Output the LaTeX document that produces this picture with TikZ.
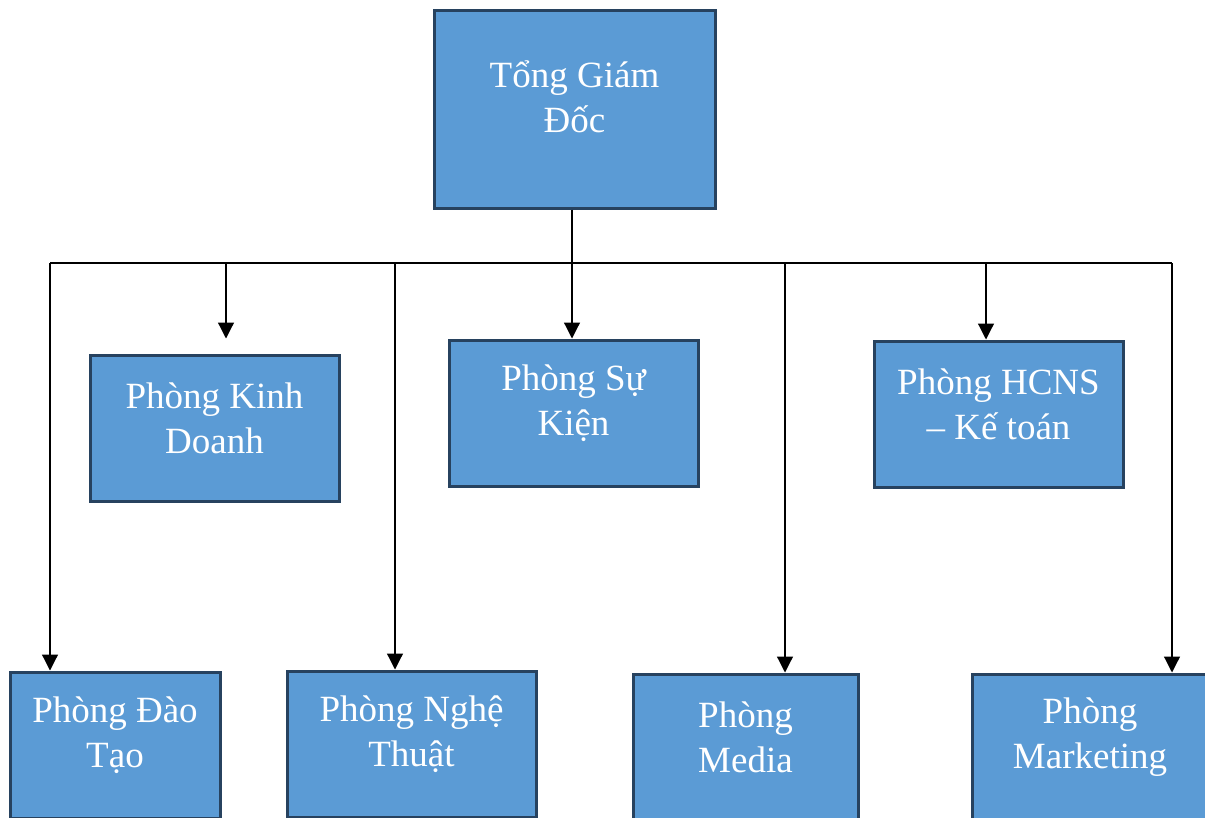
\documentclass[tikz,border=0pt]{standalone}
\usepackage{fontspec}
\setmainfont{Liberation Serif}
\usetikzlibrary{arrows.meta}
\definecolor{boxfill}{HTML}{5B9BD5}
\definecolor{boxline}{HTML}{27425F}

\begin{document}
\begin{tikzpicture}[x=1pt, y=-1pt,
      block/.style={rectangle, draw=boxline, line width=3pt, fill=boxfill, minimum width=249pt, minimum height=146pt, inner sep=0pt},
      blocktext/.style={text=white, align=center, font=\fontsize{37}{45}\selectfont, yshift=10pt},
      wire/.style={draw, line width=1.2pt},
      line/.style={draw, line width=1.2pt, -{Triangle[width=16pt,length=16pt]}}
    ]

    \useasboundingbox (0,0) rectangle (1205,817);
    \clip (0,0) rectangle (1205,817);

    \node [block, minimum width=281pt, minimum height=198pt, label={[blocktext, yshift=2pt]center:Tổng Giám\\Đốc}] (director) at (574.5,109) {};
    \node [block, label={[blocktext]center:Phòng Kinh\\Doanh}] (sales) at (214.5,428) {};
    \node [block, label={[blocktext]center:Phòng Sự\\Kiện}] (events) at (573.5,413) {};
    \node [block, label={[blocktext]center:Phòng HCNS\\– Kế toán}] (hr) at (998.5,414) {};
    \node [block, minimum width=210pt, label={[blocktext]center:Phòng Đào\\Tạo}] (training) at (115,745) {};
    \node [block, label={[blocktext]center:Phòng Nghệ\\Thuật}] (art) at (411.5,744) {};
    \node [block, minimum width=225pt, label={[blocktext]center:Phòng\\Media}] (media) at (745.5,747) {};
    \node [block, minimum width=236pt, label={[blocktext]center:Phòng\\Marketing}] (marketing) at (1090,747) {};

    \coordinate (hub) at (572,263);
    \coordinate (b1) at (50,263);
    \coordinate (b2) at (226,263);
    \coordinate (b3) at (395,263);
    \coordinate (b4) at (572,263);
    \coordinate (b5) at (785,263);
    \coordinate (b6) at (986,263);
    \coordinate (b7) at (1172,263);

    \path [wire] (hub |- director.south) -- (hub);
    \path [wire] (b1) -- (b7);

    \path [line] (b1) -- (b1 |- training.north);
    \path [line, shorten >=15pt] (b2) -- (b2 |- sales.north);
    \path [line] (b3) -- (b3 |- art.north);
    \path [line] (b4) -- (b4 |- events.north);
    \path [line] (b5) -- (b5 |- media.north);
    \path [line] (b6) -- (b6 |- hr.north);
    \path [line] (b7) -- (b7 |- marketing.north);

    \end{tikzpicture}
\end{document}
